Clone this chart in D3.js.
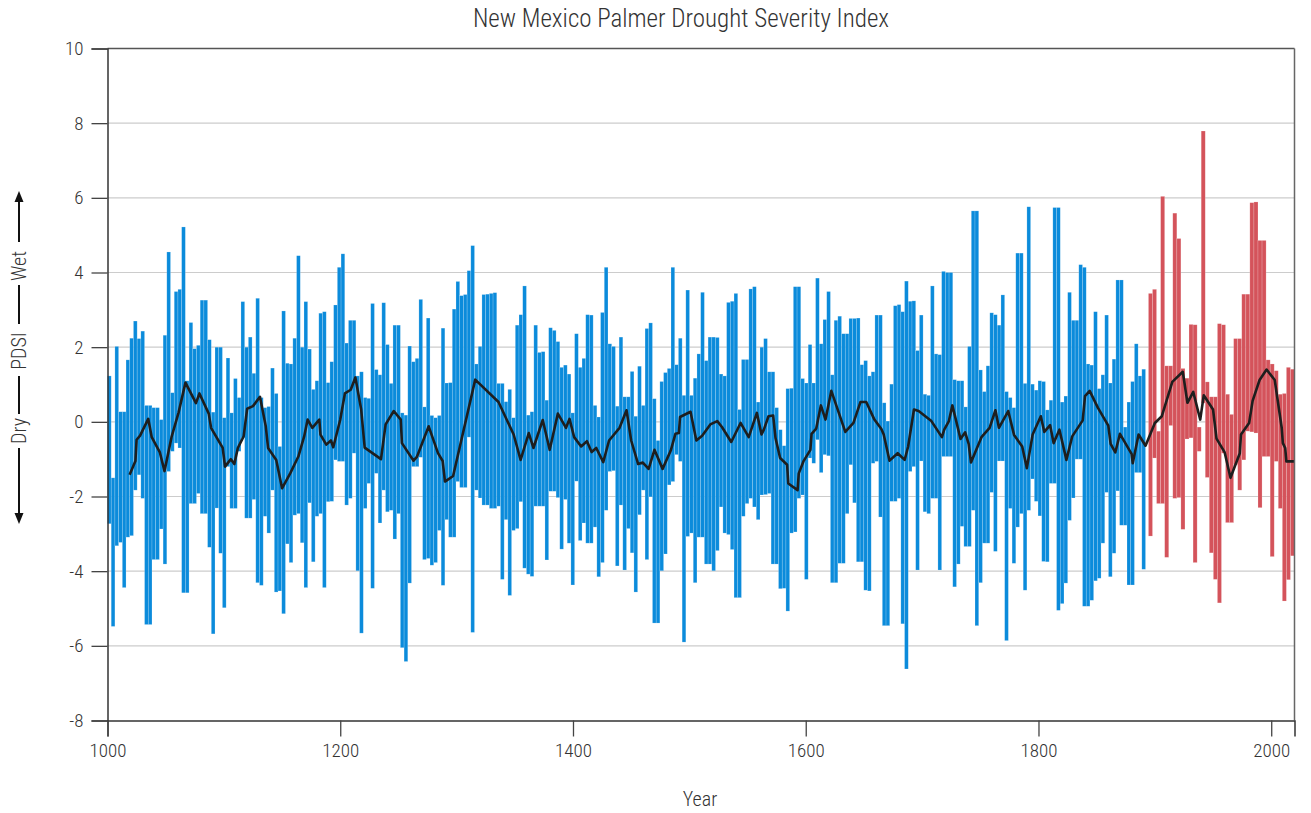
<!DOCTYPE html>
<html>
<head>
<meta charset="utf-8">
<script src="https://cdn.jsdelivr.net/npm/d3@7"></script>
<style>
  body { margin: 0; background: #fff; }
  svg text { font-family: "Roboto Condensed", "Liberation Sans Narrow", "DejaVu Sans Condensed", sans-serif; font-weight: 300; fill: #333; }
</style>
</head>
<body>
<script>
// tree-ring era columns (1000-1893): high and low of each column
var blueHi = [
  1.23, -1.50, 2.02, 0.27, 0.27, 1.66, 2.24, 2.70, 2.23, 2.43, 0.44, 0.44, 0.38, 0.38, 0.06, 2.32, 4.55, 0.78, 3.49, 3.55, 5.22, 1.10, 2.66, 1.96, 2.05, 3.26, 3.26, 2.20, 0.26, 2.00, 2.00, 0.11, 1.71, 0.24,
  1.16, 0.65, 3.22, 2.00, 2.27, 1.30, 3.31, 0.65, 0.38, 0.41, 1.44, 0.76, -0.66, 2.97, 1.57, 1.55, 2.24, 4.45, 2.00, 3.22, 1.95, 0.87, 1.10, 2.91, 2.95, 1.05, 1.61, 3.13, 4.14, 4.50, 2.11, 2.72, 2.72, 1.23, 1.34,
  0.65, 0.63, 3.17, 1.40, 1.26, 3.19, 2.07, 1.03, 2.59, 2.59, 0.24, 0.18, 2.03, 1.61, 1.70, 3.28, 0.40, 2.78, 0.17, 0.11, 0.17, 2.51, 1.04, 1.05, 3.02, 3.76, 3.38, 3.41, 4.05, 4.72, 1.55, 2.02, 3.41, 3.42, 3.44,
  3.46, 1.03, 1.03, 0.54, 0.87, 0.11, 2.59, 2.87, 3.64, 0.18, 0.27, 2.59, 1.86, 1.88, 0.58, 2.52, 2.45, 2.15, 1.46, 1.52, 1.28, 0.24, 2.36, 1.46, 1.70, 2.87, 2.86, 0.44, 0.13, 2.93, 4.14, 2.09, 2.02, 0.42, 2.27,
  0.67, 0.67, 1.35, 0.15, 1.49, 0.44, 2.50, 2.65, 0.62, -0.50, 1.08, 1.32, 1.43, 4.14, 1.53, 2.24, 0.71, 3.53, 0.71, 1.17, 1.82, 3.47, 1.64, 2.27, 2.27, 2.26, 1.28, 1.23, 3.20, 3.23, 3.44, 0.33, 1.67, 1.67, 3.56,
  3.62, 0.53, 2.00, 2.23, 1.34, 1.34, 0.38, -0.21, -0.64, 0.89, 0.90, 3.62, 3.62, 1.16, 1.04, 2.07, 1.04, 3.85, 2.09, 2.74, 3.49, 1.26, 2.72, 2.83, 2.36, 2.36, 2.77, 2.77, 2.78, 1.53, 1.64, 1.23, 1.34, 2.86, 2.86, 0.51,
  0.02, 1.01, 3.11, 3.14, 2.95, 3.77, 3.23, 3.24, 1.91, 2.86, 0.74, 0.71, 3.64, 1.82, 1.80, 4.03, 4.00, 4.00, 1.13, 1.10, 1.10, 0.40, 2.02, 5.65, 5.65, 1.39, 0.81, 1.50, 2.92, 2.87, 2.59, 3.40, 0.81, 0.65, 0.38,
  4.52, 4.52, 1.03, 5.76, 1.01, 0.85, 1.10, 1.08, 0.32, 0.58, 5.74, 5.74, 0.53, 0.69, 3.47, 2.72, 2.72, 4.21, 4.14, 1.55, 1.52, 2.95, 0.89, 1.26, 2.86, 1.04, 1.68, 3.80, 3.80, -0.14, 0.53, 1.08, 2.09, 1.23, 1.41
];
var blueLo = [
  -2.73, -5.48, -3.32, -3.23, -4.44, -3.09, -3.05, -1.83, -1.42, -2.05, -5.43, -5.43, -3.69, -3.69, -2.87, -3.81, -1.33, -0.79, -0.57, -0.70, -4.58, -4.58, -2.19, -2.19, -1.92, -2.46, -2.46, -3.36, -5.68, -2.31, -3.52, -4.98, -1.20, -2.32,
  -2.32, -0.79, -0.43, -2.58, -2.58, -2.08, -4.31, -4.38, -2.53, -2.98, -1.83, -4.56, -4.53, -5.14, -3.27, -3.77, -2.50, -2.46, -3.24, -4.44, -2.17, -3.75, -2.53, -2.46, -4.44, -2.14, -2.13, -1.02, -1.06, -1.06, -2.23, -2.05, -0.84, -3.99, -5.66,
  -2.32, -1.65, -4.46, -1.38, -2.71, -1.83, -2.41, -2.37, -3.14, -2.46, -6.05, -6.42, -4.32, -1.20, -1.20, -0.95, -3.69, -3.66, -3.84, -3.77, -2.91, -4.38, -2.62, -3.09, -3.09, -1.60, -1.76, -1.76, -0.41, -5.64, -1.83, -2.04, -2.23, -2.23, -2.32,
  -2.32, -2.26, -4.22, -2.62, -4.65, -2.91, -2.86, -2.14, -3.92, -4.08, -4.14, -2.26, -2.26, -2.26, -3.70, -1.86, -1.86, -2.03, -3.41, -2.08, -3.25, -4.37, -1.59, -3.18, -2.71, -3.25, -3.25, -2.82, -4.15, -3.77, -2.37, -1.33, -1.31, -3.86, -2.23,
  -3.97, -2.86, -3.51, -4.56, -2.49, -1.83, -3.69, -2.01, -5.39, -5.39, -3.99, -3.54, -1.69, -1.60, -0.88, -1.06, -5.90, -3.07, -2.98, -4.31, -3.09, -3.09, -3.81, -3.81, -3.99, -3.45, -2.28, -2.98, -3.02, -3.42, -4.71, -4.71, -2.53, -2.19, -2.05,
  -2.28, -2.62, -1.96, -1.95, -1.92, -3.81, -3.81, -4.47, -4.46, -5.07, -2.98, -2.95, -2.05, -1.96, -4.22, -0.97, -1.11, -0.48, -1.36, -0.88, -0.91, -4.31, -4.31, -3.79, -3.79, -2.46, -1.15, -2.17, -3.75, -3.75, -4.51, -4.53, -1.11, -1.06, -2.55, -5.46,
  -5.46, -2.13, -2.13, -2.05, -5.41, -6.62, -1.33, -1.20, -3.97, -1.05, -2.41, -2.46, -2.05, -2.05, -3.97, -0.93, -0.93, -0.93, -4.42, -3.81, -2.80, -3.34, -3.34, -2.37, -5.46, -4.31, -3.25, -3.25, -1.89, -3.47, -1.05, -1.05, -5.86, -2.32, -3.79,
  -2.82, -2.46, -4.51, -2.37, -1.53, -2.13, -2.52, -3.74, -3.75, -1.65, -1.65, -5.05, -4.87, -4.32, -2.64, -2.04, -1.00, -1.00, -4.94, -4.94, -4.78, -4.26, -4.19, -3.25, -1.89, -4.15, -3.52, -1.85, -2.77, -2.77, -4.37, -4.37, -1.36, -1.36, -3.95
];
var blueSpan = [1000, 1892];

// measured era columns (1895-2020)
var redHi = [3.44, 3.55, -0.25, 6.04, 1.50, 1.50, 5.59, 4.91, 1.43, 1.17, 2.61, 2.60, -0.14, 7.79, 1.07, 0.67, 0.67, 2.63, 2.60, 0.74, 0.20, 2.23, 2.23, 3.42, 3.42, 5.87, 5.89, 4.86, 4.86, 1.66, 1.55, 1.37, 0.74, 0.76, 1.46, 1.41];
var redLo = [-3.06, -0.97, -2.19, -2.19, -3.63, -0.10, -2.05, -2.03, -2.88, -0.46, -0.43, -3.77, -0.79, 0.50, -1.49, -3.51, -4.22, -4.85, -0.84, -2.70, -2.70, -1.15, -1.83, -1.02, -0.25, -0.27, -0.30, -2.30, -0.93, -0.93, -3.61, -1.06, -2.32, -4.80, -4.23, -3.59];
var redSpan = [1894.5, 2020];

// running average
var lineYears = [1019, 1024, 1025, 1028, 1035, 1038, 1045, 1049, 1055, 1061, 1067, 1076, 1079, 1087, 1089, 1099, 1101, 1106, 1109, 1112, 1117, 1120, 1125, 1131, 1136, 1138, 1145, 1150, 1157, 1164, 1169, 1172, 1176, 1182, 1183, 1188, 1192, 1194, 1200, 1204, 1209, 1213, 1218, 1221, 1235, 1239, 1246, 1252, 1253, 1263, 1266, 1276, 1284, 1288, 1290, 1297, 1316, 1336, 1349, 1355, 1362, 1366, 1374, 1380, 1387, 1394, 1397, 1401, 1407, 1412, 1416, 1420, 1426, 1431, 1440, 1446, 1450, 1456, 1460, 1465, 1470, 1477, 1484, 1488, 1491, 1492, 1501, 1506, 1511, 1518, 1524, 1528, 1536, 1544, 1551, 1558, 1562, 1564, 1568, 1572, 1574, 1578, 1584, 1585, 1593, 1594, 1598, 1604, 1605, 1609, 1613, 1617, 1622, 1634, 1641, 1647, 1652, 1659, 1665, 1667, 1672, 1679, 1685, 1688, 1693, 1697, 1708, 1717, 1719, 1723, 1726, 1729, 1733, 1737, 1740, 1742, 1751, 1758, 1763, 1766, 1774, 1779, 1786, 1790, 1795, 1802, 1805, 1810, 1813, 1818, 1824, 1829, 1838, 1840, 1844, 1851, 1860, 1862, 1866, 1870, 1880, 1881, 1886, 1892, 1900, 1906, 1915, 1924, 1928, 1933, 1939, 1942, 1950, 1953, 1960, 1965, 1973, 1974, 1981, 1984, 1990, 1996, 2003, 2009, 2010, 2012, 2013, 2020];
var lineValues = [-1.42, -1.05, -0.48, -0.37, 0.08, -0.41, -0.82, -1.32, -0.41, 0.24, 1.05, 0.50, 0.76, 0.22, -0.16, -0.70, -1.20, -1.00, -1.13, -0.70, -0.39, 0.35, 0.42, 0.67, -0.12, -0.70, -1.02, -1.78, -1.38, -0.93, -0.39, 0.06, -0.16, 0.06, -0.34, -0.61, -0.50, -0.68, 0.06, 0.76, 0.86, 1.19, 0.33, -0.69, -1.00, -0.07, 0.29, 0.06, -0.57, -1.04, -0.93, -0.12, -0.84, -1.05, -1.60, -1.45, 1.13, 0.53, -0.34, -1.02, -0.30, -0.70, 0.05, -0.75, 0.22, -0.16, 0.08, -0.41, -0.66, -0.52, -0.81, -0.70, -1.08, -0.50, -0.16, 0.31, -0.50, -1.13, -1.09, -1.26, -0.75, -1.26, -0.77, -0.32, -0.30, 0.13, 0.27, -0.50, -0.37, -0.07, 0.02, -0.14, -0.54, -0.03, -0.41, 0.24, -0.34, -0.21, 0.15, 0.17, -0.43, -0.97, -1.15, -1.65, -1.83, -1.38, -1.06, -0.75, -0.32, -0.18, 0.44, 0.06, 0.83, -0.27, -0.03, 0.53, 0.53, 0.06, -0.19, -0.34, -1.04, -0.84, -1.02, -0.66, 0.33, 0.29, 0.02, -0.41, -0.21, 0.02, 0.44, 0.06, -0.46, -0.28, -0.59, -1.09, -0.41, -0.16, 0.31, -0.16, 0.29, -0.35, -0.66, -1.24, -0.34, 0.15, -0.27, -0.09, -0.57, -0.21, -1.02, -0.39, 0.04, 0.69, 0.83, 0.38, -0.10, -0.59, -0.82, -0.32, -0.86, -1.11, -0.34, -0.64, -0.03, 0.15, 1.07, 1.34, 0.51, 0.80, 0.06, 0.71, 0.33, -0.45, -0.82, -1.50, -0.84, -0.34, -0.03, 0.56, 1.12, 1.40, 1.12, -0.16, -0.57, -0.70, -1.06, -1.06];

var yTicks = [-8, -6, -4, -2, 0, 2, 4, 6, 8, 10];
var xTicks = [1000, 1200, 1400, 1600, 1800, 2000];

var chart = {
  "width" : 1311,
  "height" : 813,
  "left" : 107.5,
  "right" : 1294.5,
  "top" : 48.5,
  "bottom" : 720.5
};

var svg = d3.select("body")
            .append("svg")
            .attr("width", chart.width)
            .attr("height", chart.height);

var x = d3.scaleLinear()
          .domain([1000, 2020])
          .range([chart.left, chart.right]);

var y = d3.scaleLinear()
          .domain([-8, 10])
          .range([chart.bottom, chart.top]);

// gridlines
svg.append("g")
   .selectAll("line")
   .data(yTicks.filter(function(d) { return d > -8 && d < 10; }))
   .join("line")
   .attr("x1", chart.left)
   .attr("x2", chart.right)
   .attr("y1", function(d) { return y(d); })
   .attr("y2", function(d) { return y(d); })
   .attr("stroke", "#cccccc")
   .attr("stroke-width", 1.2);

function columns(hi, lo, span, color) {
  var step = (span[1] - span[0]) / hi.length;
  var rows = hi.map(function(h, i) {
    return { start: span[0] + i * step, end: span[0] + (i + 1) * step, hi: h, lo: lo[i] };
  });
  svg.append("g")
     .selectAll("rect")
     .data(rows)
     .join("rect")
     .attr("x", function(d) { return x(d.start); })
     .attr("width", function(d) { return Math.min(x(d.end), chart.right) - x(d.start); })
     .attr("y", function(d) { return y(d.hi); })
     .attr("height", function(d) { return y(d.lo) - y(d.hi); })
     .attr("fill", color)
     .attr("stroke", "rgba(255,255,255,0.3)")
     .attr("stroke-width", 0.6);
}

columns(blueHi, blueLo, blueSpan, "#0b8bdb");
columns(redHi, redLo, redSpan, "#d4535b");

// running average line
var avg = d3.line()
            .x(function(d, i) { return x(lineYears[i]); })
            .y(function(d) { return y(d); });

svg.append("path")
   .attr("d", avg(lineValues))
   .attr("fill", "none")
   .attr("stroke", "#1e1e1e")
   .attr("stroke-width", 2.6)
   .attr("stroke-linejoin", "round");

// frame: top and right border
svg.append("line")
   .attr("x1", chart.left).attr("x2", chart.right)
   .attr("y1", chart.top).attr("y2", chart.top)
   .attr("stroke", "#555").attr("stroke-width", 1.5);
svg.append("line")
   .attr("x1", chart.right).attr("x2", chart.right)
   .attr("y1", chart.top).attr("y2", chart.bottom)
   .attr("stroke", "#666").attr("stroke-width", 1.5);

// axes
var yAxis = svg.append("g")
               .attr("transform", "translate(" + chart.left + ",0)")
               .call(d3.axisLeft(y).tickValues(yTicks).tickFormat(function(d) { return String(d); })
                                   .tickSize(16).tickPadding(8));
var xAxis = svg.append("g")
               .attr("transform", "translate(0," + chart.bottom + ")")
               .call(d3.axisBottom(x).tickValues(xTicks).tickFormat(function(d) { return String(d); })
                                     .tickSize(16).tickPadding(7));

[yAxis, xAxis].forEach(function(g) {
  g.select(".domain").attr("stroke", "#333").attr("stroke-width", 1.5);
  g.selectAll(".tick line").attr("stroke", "#444").attr("stroke-width", 1.3);
  g.selectAll(".tick text").attr("font-size", 19).attr("fill", "#333")
   .style("font-family", "'Roboto Condensed', 'Liberation Sans Narrow', sans-serif")
   .style("font-weight", 300);
});

// titles
svg.append("text")
   .attr("x", 681)
   .attr("y", 27)
   .attr("text-anchor", "middle")
   .attr("font-size", 25)
   .text("New Mexico Palmer Drought Severity Index");

svg.append("text")
   .attr("x", 700)
   .attr("y", 806)
   .attr("text-anchor", "middle")
   .attr("font-size", 20)
   .text("Year");

// y label: Dry --- PDSI --- Wet with arrows
var lab = svg.append("g").attr("stroke", "#111").attr("stroke-width", 2);
var lx = 19;
[[197, 242], [285, 324], [376, 414], [448, 515]].forEach(function(s) {
  lab.append("line").attr("x1", lx).attr("x2", lx).attr("y1", s[0]).attr("y2", s[1]);
});
lab.append("path")
   .attr("d", "M" + lx + ",191 L" + (lx - 4.5) + ",202 L" + (lx + 4.5) + ",202 Z")
   .attr("fill", "#111").attr("stroke", "none");
lab.append("path")
   .attr("d", "M" + lx + ",524 L" + (lx - 4.5) + ",513 L" + (lx + 4.5) + ",513 Z")
   .attr("fill", "#111").attr("stroke", "none");

[["Wet", 266], ["PDSI", 351], ["Dry", 431]].forEach(function(t) {
  svg.append("text")
     .attr("transform", "translate(" + (lx + 7) + "," + t[1] + ") rotate(-90)")
     .attr("text-anchor", "middle")
     .attr("font-size", 20)
     .text(t[0]);
});
</script>
</body>
</html>
